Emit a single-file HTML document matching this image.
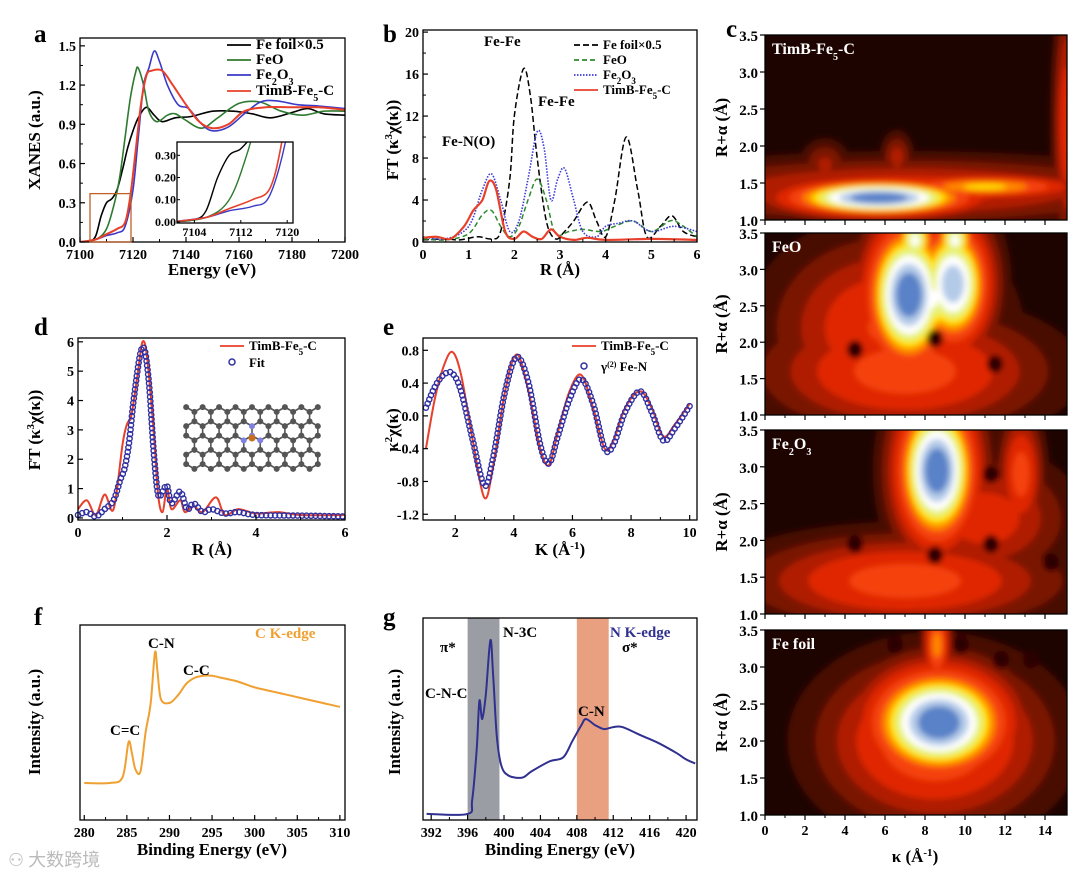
<!DOCTYPE html>
<html><head><meta charset="utf-8">
<style>
html,body{margin:0;padding:0;background:#fff;}
svg{display:block;font-family:"Liberation Serif","Noto Serif CJK SC",serif;font-weight:bold;}
</style></head>
<body>
<svg id="fig" width="1080" height="882" viewBox="0 0 1080 882" xmlns="http://www.w3.org/2000/svg">
<defs>
<filter id="blur" x="-20%" y="-20%" width="140%" height="140%"><feGaussianBlur stdDeviation="3"/></filter>
</defs>
<g id="root"></g>
<text x="8" y="866" font-size="18" fill="#bbb" font-family="'Noto Sans CJK SC',sans-serif" font-weight="normal">⚇ 大数跨境</text>
</svg>
<script>
// ---------- DATA ----------
const aFeFoil=[[7100,0],[7104,0.01],[7106,0.05],[7108,0.2],[7110,0.3],[7112,0.33],[7114,0.4],[7116,0.55],[7118,0.72],[7120,0.85],[7122,0.95],[7125,1.03],[7128,0.97],[7131,0.92],[7136,0.95],[7142,0.96],[7150,1.0],[7158,1.0],[7165,0.98],[7172,0.95],[7180,0.99],[7186,1.02],[7192,0.98],[7200,0.97]];
const aFeO=[[7100,0],[7106,0.02],[7110,0.1],[7113,0.3],[7115,0.5],[7117,0.8],[7119,1.1],[7121,1.3],[7122,1.33],[7124,1.2],[7126,1.0],[7129,0.92],[7133,0.97],[7136,0.98],[7140,0.93],[7146,0.87],[7152,0.95],[7160,1.06],[7168,1.07],[7176,1.0],[7184,0.97],[7192,1.0],[7200,1.0]];
const aFe2O3=[[7100,0],[7106,0.02],[7110,0.05],[7114,0.07],[7117,0.12],[7120,0.4],[7122,0.8],[7124,1.2],[7126,1.33],[7128,1.46],[7130,1.38],[7133,1.2],[7137,1.05],[7141,1.02],[7146,0.9],[7150,0.85],[7156,0.88],[7162,0.98],[7168,1.07],[7174,1.08],[7182,1.05],[7190,1.04],[7200,1.02]];
const aTimB=[[7100,0],[7106,0.02],[7110,0.06],[7114,0.1],[7117,0.15],[7119,0.35],[7121,0.7],[7123,1.05],[7125,1.27],[7127,1.31],[7131,1.31],[7135,1.2],[7140,1.05],[7145,0.92],[7150,0.87],[7156,0.9],[7162,1.0],[7170,1.03],[7180,1.03],[7190,1.03],[7200,1.01]];
const aTicksX=[7100,7120,7140,7160,7180,7200];
const aTicksY=[0,0.3,0.6,0.9,1.2,1.5];
const insetTicksX=[7104,7112,7120];
const insetTicksY=[0,0.1,0.2,0.3];

const bFeFoil=[[0,0.2],[0.5,0.3],[0.8,0.2],[1.2,0.5],[1.5,0.3],[1.7,1],[1.9,6],[2.0,12],[2.2,16.5],[2.35,14],[2.5,8],[2.7,2],[2.9,0.3],[3.1,1],[3.3,2],[3.6,3.8],[3.8,2],[4.0,0.5],[4.2,4],[4.45,10],[4.7,5],[4.9,0.5],[5.2,1.5],[5.45,2.5],[5.7,1],[6,0.5]];
const bFeO=[[0,0.3],[0.5,0.2],[1.0,0.8],[1.3,2.6],[1.5,3],[1.7,1.5],[1.9,0.5],[2.1,1.5],[2.3,4],[2.5,6],[2.7,4],[2.9,0.8],[3.2,1],[3.5,1.2],[3.9,1],[4.2,1.5],[4.6,2],[5.0,1],[5.4,2],[5.6,1.8],[6,0.5]];
const bFe2O3=[[0,0.5],[0.5,0.3],[1.0,1.5],[1.3,5],[1.5,6.5],[1.7,4],[1.9,1],[2.1,2],[2.3,6],[2.5,10.5],[2.65,9],[2.8,4],[2.95,6],[3.1,7],[3.3,4],[3.5,1],[3.8,0.5],[4.0,1.5],[4.3,1.8],[4.6,2],[5.0,1],[5.5,1.5],[6,1]];
const bTimB=[[0,0.4],[0.3,0.5],[0.6,0.3],[0.9,1.5],[1.1,3],[1.3,4],[1.45,5.8],[1.6,5],[1.8,1],[2.0,0.3],[2.2,1],[2.4,0.5],[2.6,0.3],[2.8,1.2],[3.0,0.5],[3.3,0.2],[3.6,0.4],[4,0.2],[5,0.3],[6,0.2]];
const bTicksX=[0,1,2,3,4,5,6];
const bTicksY=[0,4,8,12,16,20];

const dData=[[0,0.3],[0.2,0.6],[0.4,0.1],[0.6,0.8],[0.8,0.3],[1.0,2.5],[1.1,3.2],[1.2,3.5],[1.35,5],[1.45,6],[1.55,5.5],[1.7,3],[1.8,0.8],[1.9,0.2],[2.0,1.0],[2.1,0.3],[2.3,0.6],[2.4,0.2],[2.6,0.4],[2.8,0.2],[3.1,0.7],[3.3,0.1],[3.6,0.3],[4,0.15],[4.5,0.2],[5,0.1],[6,0.1]];
const dFit=[[0,0.1],[0.2,0.2],[0.4,0.05],[0.6,0.3],[0.8,0.6],[0.95,1.3],[1.05,1.7],[1.15,2.6],[1.25,4],[1.4,5.6],[1.5,5.7],[1.6,4.5],[1.7,2.3],[1.8,0.8],[1.9,0.9],[2.0,1.1],[2.1,0.5],[2.3,0.9],[2.45,0.3],[2.6,0.5],[2.8,0.2],[3.0,0.3],[3.3,0.15],[3.6,0.2],[4,0.1],[5,0.08],[6,0.05]];
const dTicksX=[0,2,4,6];
const dTicksY=[0,1,2,3,4,5,6];

const eData=[[1,-0.4],[1.3,0.2],[1.6,0.6],[1.9,0.78],[2.2,0.5],[2.6,-0.3],[3.0,-1.0],[3.3,-0.6],[3.7,0.3],[4.1,0.75],[4.5,0.3],[4.9,-0.4],[5.2,-0.6],[5.5,-0.2],[5.9,0.3],[6.3,0.5],[6.7,0.1],[7.1,-0.4],[7.4,-0.3],[7.8,0.1],[8.3,0.3],[8.7,0.1],[9.1,-0.25],[9.5,-0.1],[10,0.15]];
const eFit=[[1,0.1],[1.3,0.35],[1.6,0.5],[1.9,0.52],[2.2,0.3],[2.6,-0.3],[3.0,-0.85],[3.3,-0.5],[3.7,0.3],[4.1,0.72],[4.5,0.4],[4.9,-0.35],[5.2,-0.58],[5.5,-0.25],[5.9,0.2],[6.3,0.45],[6.7,0.15],[7.1,-0.4],[7.4,-0.35],[7.8,0.05],[8.3,0.3],[8.7,0.05],[9.1,-0.3],[9.5,-0.15],[10,0.12]];
const eTicksX=[2,4,6,8,10];
const eTicksY=[-1.2,-0.8,-0.4,0,0.4,0.8];

const fData=[[280,0.19],[283,0.19],[284.5,0.22],[285.2,0.4],[285.6,0.34],[286,0.26],[286.6,0.25],[287.2,0.45],[287.8,0.6],[288.3,0.86],[288.6,0.76],[289,0.62],[290,0.6],[291,0.64],[292,0.7],[293,0.73],[294,0.74],[295,0.74],[296,0.73],[298,0.71],[300,0.68],[302,0.66],[304,0.64],[306,0.62],[308,0.6],[310,0.58]];
const fTicksX=[280,285,290,295,300,305,310];

const gData=[[391.5,0.03],[396,0.03],[396.5,0.1],[397,0.35],[397.3,0.59],[397.6,0.5],[398,0.62],[398.5,0.89],[398.8,0.72],[399.2,0.42],[399.7,0.27],[400.5,0.22],[402,0.21],[403,0.24],[405,0.29],[406.5,0.31],[407.5,0.39],[408.5,0.47],[409,0.5],[410,0.47],[411,0.45],[412,0.46],[413,0.46],[415,0.42],[417,0.38],[419,0.33],[420,0.3],[421,0.28]];
const gTicksX=[392,396,400,404,408,412,416,420];
const gBands=[[396,399.5,'#9a9ea4'],[408,411.5,'#e8a080']];

// wavelet blobs: [k, R, sigmaK, sigmaR, peak]
const c1Blobs=[[7,1.4,9,0.32,0.4],[3.0,1.75,0.9,0.25,0.28],[6.6,1.85,0.6,0.25,0.3],[15.1,2.3,0.5,1.2,0.42],[11,1.45,3.5,0.12,0.66],[5.7,1.3,3.5,0.18,1.0]];
const c2Blobs=[[7,1.6,5,0.6,0.5],[6,2.2,4,0.9,0.45],[8.2,2.6,1.8,0.5,0.8],[7.5,3.4,0.8,0.3,0.8],[9.5,3.4,0.8,0.3,0.8],[9.4,2.8,1.4,0.65,0.92],[7.2,2.65,1.6,0.75,1.0]];
const c3Blobs=[[7,1.45,5.5,0.45,0.5],[11,2.3,3,0.6,0.4],[12.8,2.9,0.8,0.6,0.5],[8.6,2.95,1.5,0.75,1.0]];
const c4Blobs=[[8.5,2.0,4,0.8,0.55],[8.6,3.3,0.5,0.4,0.6],[8.7,2.25,2.6,0.55,1.0]];
const c2Dark=[[4.5,1.9],[8.5,2.05],[11.5,1.7]];
const c3Dark=[[4.5,1.95],[8.5,1.8],[11.3,1.95],[11.3,2.9],[14.3,1.7]];
const c4Dark=[[6.5,3.3],[9.8,3.3],[11.8,3.1],[13.3,3.1]];
const cTicksX=[0,2,4,6,8,10,12,14];
const cTicksY=[1.0,1.5,2.0,2.5,3.0,3.5];

// ---------- HELPERS ----------
const NS='http://www.w3.org/2000/svg';
const root=document.getElementById('root');
function mk(tag,attrs,parent){const e=document.createElementNS(NS,tag);for(const k in attrs)e.setAttribute(k,attrs[k]);(parent||root).appendChild(e);return e;}
function axes(box,xd,yd){return{x:v=>box[0]+(v-xd[0])/(xd[1]-xd[0])*(box[2]-box[0]),y:v=>box[3]-(v-yd[0])/(yd[1]-yd[0])*(box[3]-box[1]),box};}
function smooth(pts){let d='M'+pts[0][0].toFixed(1)+','+pts[0][1].toFixed(1);for(let i=0;i<pts.length-1;i++){const p0=pts[i-1]||pts[i],p1=pts[i],p2=pts[i+1],p3=pts[i+2]||p2;const c1=[p1[0]+(p2[0]-p0[0])/6,p1[1]+(p2[1]-p0[1])/6],c2=[p2[0]-(p3[0]-p1[0])/6,p2[1]-(p3[1]-p1[1])/6];d+='C'+c1.map(v=>v.toFixed(1))+' '+c2.map(v=>v.toFixed(1))+' '+p2.map(v=>v.toFixed(1));}return d;}
function curve(ax,data,style,name,parent){const p=mk('path',Object.assign({d:smooth(data.map(q=>[ax.x(q[0]),ax.y(q[1])])),fill:'none'},style),parent);return p;}
function frame(ax,name){const b=ax.box;const r=mk('rect',{x:b[0],y:b[1],width:b[2]-b[0],height:b[3]-b[1],fill:'none',stroke:'#000','stroke-width':1.3});}
function text(x,y,s,size,opts){const t=mk('text',Object.assign({x,y,'font-size':size},opts||{}));t.innerHTML=s;return t;}
function xticks(ax,ticks,fmt,size,minor){const b=ax.box;ticks.forEach(v=>{const x=ax.x(v);mk('line',{x1:x,x2:x,y1:b[3],y2:b[3]-5,stroke:'#000','stroke-width':1.2});const t=text(x,b[3]+17,fmt(v),size||14,{'text-anchor':'middle'});});if(minor)for(let i=0;i<ticks.length-1;i++){const x=ax.x((ticks[i]+ticks[i+1])/2);mk('line',{x1:x,x2:x,y1:b[3],y2:b[3]-3,stroke:'#000','stroke-width':1});}}
function yticks(ax,ticks,fmt,size,minor){const b=ax.box;ticks.forEach(v=>{const y=ax.y(v);mk('line',{x1:b[0],x2:b[0]+5,y1:y,y2:y,stroke:'#000','stroke-width':1.2});const t=text(b[0]-4,y+5,fmt(v),size||14,{'text-anchor':'end'});});if(minor)for(let i=0;i<ticks.length-1;i++){const y=ax.y((ticks[i]+ticks[i+1])/2);mk('line',{x1:b[0],x2:b[0]+3,y1:y,y2:y,stroke:'#000','stroke-width':1});}}
function ylabel(x,y,s,name){const t=text(x,y,s,17,{'text-anchor':'middle',transform:`rotate(-90 ${x} ${y})`});}
function xlabel(x,y,s,name){const t=text(x,y,s,17,{'text-anchor':'middle'});}
function letter(x,y,s){const t=text(x,y,s,25,{});}
function legendLine(x,y,color,dash,label,name,size){mk('line',{x1:x,x2:x+24,y1:y-4,y2:y-4,stroke:color,'stroke-width':1.8,'stroke-dasharray':dash||''});const t=text(x+29,y,label,size||13,{});}
const f1=v=>v.toFixed(1), f0=v=>String(v);
const RED='#e8402a',BLUE='#3a3ac8',GREEN='#2e7a2e',BLUE2='#3030a0';

// ---------- PANEL A ----------
letter(34,42,'a');
const A=axes([80,38,345,242],[7100,7200],[0,1.56]);
const clipA=mk('clipPath',{id:'clipA'});mk('rect',{x:80,y:38,width:265,height:204},clipA);
const gA=mk('g',{'clip-path':'url(#clipA)'});
curve(A,aFeFoil,{stroke:'#000','stroke-width':1.6},'fe-foil-line',gA);
curve(A,aFeO,{stroke:GREEN,'stroke-width':1.6},'feo-line',gA);
curve(A,aFe2O3,{stroke:BLUE,'stroke-width':1.6},'fe2o3-line',gA);
curve(A,aTimB,{stroke:RED,'stroke-width':2},'timb-line',gA);
frame(A,'panel-a-frame');
xticks(A,aTicksX,f0,14,true);yticks(A,aTicksY,f1,14,true);
xlabel(212,275,'Energy (eV)','panel-a-x-title');ylabel(40,140,'XANES (a.u.)','panel-a-y-title');
mk('rect',{x:90,y:A.y(0.37),width:41,height:A.y(0)-A.y(0.37),fill:'none',stroke:'#c0602a','stroke-width':1.3});
const AI=axes([177,142,293,223],[7101,7121],[-0.005,0.36]);
const clipAI=mk('clipPath',{id:'clipAI'});mk('rect',{x:177,y:142,width:116,height:81},clipAI);
mk('rect',{x:177,y:142,width:116,height:81,fill:'#fff'});
const gAI=mk('g',{'clip-path':'url(#clipAI)'});
curve(AI,aFeFoil,{stroke:'#000','stroke-width':1.4},'inset-fe-foil',gAI);
curve(AI,aFeO,{stroke:GREEN,'stroke-width':1.4},'inset-feo',gAI);
curve(AI,aFe2O3,{stroke:BLUE,'stroke-width':1.4},'inset-fe2o3',gAI);
curve(AI,aTimB,{stroke:RED,'stroke-width':1.6},'inset-timb',gAI);
frame(AI,'inset-frame');
insetTicksX.forEach(v=>{const x=AI.x(v);mk('line',{x1:x,x2:x,y1:223,y2:220,stroke:'#000'});const t=text(x,236,String(v),12,{'text-anchor':'middle'});});
insetTicksY.forEach(v=>{const y=AI.y(v);mk('line',{x1:177,x2:180,y1:y,y2:y,stroke:'#000'});const t=text(176,y+4,v.toFixed(2),12,{'text-anchor':'end'});});
legendLine(227,49,'#000','','Fe foil×0.5','legend-fe-foil',15);
legendLine(227,64,GREEN,'','FeO','legend-feo',15);
legendLine(227,79,BLUE,'','Fe<tspan baseline-shift="sub" font-size="10">2</tspan>O<tspan baseline-shift="sub" font-size="10">3</tspan>','legend-fe2o3',15);
legendLine(227,95,RED,'','TimB-Fe<tspan baseline-shift="sub" font-size="10">5</tspan>-C','legend-timb',15);

// ---------- PANEL B ----------
letter(383,42,'b');
const B=axes([423,30,697,242],[0,6],[0,20.2]);
const clipB=mk('clipPath',{id:'clipB'});mk('rect',{x:423,y:30,width:274,height:212},clipB);
const gB=mk('g',{'clip-path':'url(#clipB)'});
curve(B,bFeFoil,{stroke:'#000','stroke-width':1.5,'stroke-dasharray':'6,3'},'b-fe-foil-line',gB);
curve(B,bFeO,{stroke:'#2e8a2e','stroke-width':1.5,'stroke-dasharray':'5,3'},'b-feo-line',gB);
curve(B,bFe2O3,{stroke:'#3a3ad8','stroke-width':1.6,'stroke-dasharray':'1.5,1.5'},'b-fe2o3-line',gB);
curve(B,bTimB,{stroke:RED,'stroke-width':2.2},'b-timb-line',gB);
frame(B,'panel-b-frame');
xticks(B,bTicksX,f0,14,true);yticks(B,bTicksY,f0,14,true);
xlabel(560,275,'R (Å)','panel-b-x-title');ylabel(398,140,'FT (κ<tspan baseline-shift="super" font-size="11">3</tspan>χ(κ))','panel-b-y-title');
[['Fe-Fe',484,46],['Fe-Fe',538,106],['Fe-N(O)',442,146]].forEach(a=>{const t=text(a[1],a[2],a[0],15,{});});
legendLine(574,49,'#000','6,3','Fe foil×0.5','b-legend-fe-foil');
legendLine(574,64,'#2e8a2e','5,3','FeO','b-legend-feo');
legendLine(574,79,'#3a3ad8','1.5,1.5','Fe<tspan baseline-shift="sub" font-size="9">2</tspan>O<tspan baseline-shift="sub" font-size="9">3</tspan>','b-legend-fe2o3');
legendLine(574,94,RED,'','TimB-Fe<tspan baseline-shift="sub" font-size="9">5</tspan>-C','b-legend-timb');

// ---------- PANEL D ----------
letter(34,335,'d');
const D=axes([78,338,345,520],[0,6],[-0.07,6.13]);
curve(D,dData,{stroke:RED,'stroke-width':2},'d-timb-line');
const dPath=curve(D,dFit,{stroke:'none'},'d-fit-path');
{const L=dPath.getTotalLength();for(let s=0;s<=L;s+=4.5){const p=dPath.getPointAtLength(s);const c=mk('circle',{cx:p.x,cy:p.y,r:2.6,fill:'none',stroke:BLUE2,'stroke-width':1.4});}}
frame(D,'panel-d-frame');
xticks(D,dTicksX,f0,14,true);yticks(D,dTicksY,f0,14,false);
xlabel(212,555,'R (Å)','panel-d-x-title');ylabel(40,430,'FT (κ<tspan baseline-shift="super" font-size="11">3</tspan>χ(κ))','panel-d-y-title');
legendLine(220,350,RED,'','TimB-Fe<tspan baseline-shift="sub" font-size="9">5</tspan>-C','d-legend-timb');
mk('circle',{cx:232,cy:362,r:3,fill:'none',stroke:BLUE2,'stroke-width':1.5});
{const t=text(249,367,'Fit',13,{});}
{const g=mk('g',{});const s=9.5,cx=252,cy=438;const atoms=[];
for(let r=-2;r<=2;r++)for(let c=-8;c<=8;c++){const x=cx+c*s*0.866,y=cy+r*s*1.5+((c+r)%2===0?-s*0.25:s*0.25);if(Math.abs(x-cx)<72)atoms.push([x,y]);}
atoms.forEach((a,i)=>atoms.forEach((b,j)=>{if(j>i&&Math.hypot(a[0]-b[0],a[1]-b[1])<s*1.05)mk('line',{x1:a[0],y1:a[1],x2:b[0],y2:b[1],stroke:'#555','stroke-width':1.6},g);}));
atoms.forEach(a=>{const d=Math.hypot(a[0]-cx,a[1]-cy);mk('circle',{cx:a[0],cy:a[1],r:3,fill:d<s*1.3&&d>2?'#8080e0':'#555'},g);});
mk('circle',{cx:cx,cy:cy,r:3.5,fill:'#c87020'},g);}

// ---------- PANEL E ----------
letter(383,335,'e');
const E=axes([423,338,697,520],[0.9,10.25],[-1.27,0.95]);
curve(E,eData,{stroke:RED,'stroke-width':2},'e-timb-line');
const ePath=curve(E,eFit,{stroke:'none'},'e-fit-path');
{const L=ePath.getTotalLength();for(let s=0;s<=L;s+=4.5){const p=ePath.getPointAtLength(s);const c=mk('circle',{cx:p.x,cy:p.y,r:2.6,fill:'none',stroke:BLUE2,'stroke-width':1.4});}}
frame(E,'panel-e-frame');
xticks(E,eTicksX,f0,14,true);yticks(E,eTicksY,f1,14,false);
xlabel(560,555,'K (Å<tspan baseline-shift="super" font-size="11">-1</tspan>)','panel-e-x-title');ylabel(398,430,'κ<tspan baseline-shift="super" font-size="11">2</tspan>χ(κ)','panel-e-y-title');
legendLine(572,350,RED,'','TimB-Fe<tspan baseline-shift="sub" font-size="9">5</tspan>-C','e-legend-timb');
mk('circle',{cx:584,cy:366,r:3,fill:'none',stroke:BLUE2,'stroke-width':1.5});
{const t=text(601,371,'γ<tspan baseline-shift="super" font-size="8">(2)</tspan> Fe-N',13,{});}

// ---------- PANEL F ----------
letter(34,625,'f');
const F=axes([80,625,345,820],[279.5,310.6],[0,1]);
curve(F,fData,{stroke:'#f0a030','stroke-width':2},'c-kedge-line');
frame(F,'panel-f-frame');
xticks(F,fTicksX,f0,14,true);
xlabel(212,855,'Binding Energy (eV)','panel-f-x-title');ylabel(40,722,'Intensity (a.u.)','panel-f-y-title');
[['C K-edge',255,638,'#f0a030'],['C-N',148,648,'#000'],['C-C',183,675,'#000'],['C=C',110,735,'#000']].forEach(a=>{const t=text(a[1],a[2],a[0],15,{fill:a[3]});});

// ---------- PANEL G ----------
letter(383,625,'g');
const G=axes([423,618,697,820],[391.1,421.2],[0,1]);
gBands.forEach(b=>{const r=mk('rect',{x:G.x(b[0]),y:618,width:G.x(b[1])-G.x(b[0]),height:202,fill:b[2]});});
curve(G,gData,{stroke:'#303090','stroke-width':2},'n-kedge-line');
frame(G,'panel-g-frame');
xticks(G,gTicksX,f0,14,true);
xlabel(560,855,'Binding Energy (eV)','panel-g-x-title');ylabel(400,722,'Intensity (a.u.)','panel-g-y-title');
[['N K-edge',610,637,'#303090'],['π*',440,652,'#000'],['σ*',622,652,'#000'],['N-3C',503,637,'#000'],['C-N-C',425,698,'#000'],['C-N',578,716,'#000']].forEach(a=>{const t=text(a[1],a[2],a[0],15,{fill:a[3]});});

// ---------- PANEL C ----------
letter(726,37,'c');
const levels=[[0.1,'#4a0a00'],[0.18,'#7a1200'],[0.26,'#b01a00'],[0.34,'#e02800'],[0.44,'#f5420c'],[0.55,'#ff8a00'],[0.63,'#ffe200'],[0.7,'#e6f27a'],[0.77,'#ffffff'],[0.85,'#b4cbe8'],[0.92,'#5a82c8']];
const cPanels=[[35,220,c1Blobs,[],'TimB-Fe<tspan baseline-shift="sub" font-size="10">5</tspan>-C'],[233,415,c2Blobs,c2Dark,'FeO'],[430,614,c3Blobs,c3Dark,'Fe<tspan baseline-shift="sub" font-size="10">2</tspan>O<tspan baseline-shift="sub" font-size="10">3</tspan>'],[630,815,c4Blobs,c4Dark,'Fe foil']];
cPanels.forEach((P,pi)=>{
 const C=axes([765,P[0],1067,P[1]],[0,15.1],[1.0,3.5]);
 const cid='clipC'+pi;const cp=mk('clipPath',{id:cid});mk('rect',{x:765,y:P[0],width:302,height:P[1]-P[0]},cp);
 const g=mk('g',{'clip-path':'url(#'+cid+')'});
 mk('rect',{x:765,y:P[0],width:302,height:P[1]-P[0],fill:'#1e0400'},g);
 const gb=mk('g',{filter:'url(#blur)'},g);
 levels.forEach(L=>{P[2].forEach(b=>{if(b[4]>L[0]){const f=Math.sqrt(2*Math.log(b[4]/L[0]));const e=mk('ellipse',{cx:C.x(b[0]),cy:C.y(b[1]),rx:Math.abs(C.x(b[2]*f)-C.x(0)),ry:Math.abs(C.y(b[3]*f)-C.y(0)),fill:L[1]},gb);}});});
 P[3].forEach(d=>{mk('ellipse',{cx:C.x(d[0]),cy:C.y(d[1]),rx:8,ry:9,fill:'#2a0600'},gb);});
 frame(C,'heatmap-frame-'+pi);
 cTicksX.forEach(v=>{const x=C.x(v);mk('line',{x1:x,x2:x,y1:P[1],y2:P[1]+5,stroke:'#000','stroke-width':1.2});});
 for(let v=1;v<15;v+=2){const x=C.x(v);mk('line',{x1:x,x2:x,y1:P[1],y2:P[1]+3,stroke:'#000'});}
 cTicksY.forEach(v=>{const y=C.y(v);mk('line',{x1:760,x2:765,y1:y,y2:y,stroke:'#000','stroke-width':1.2});const t=text(758,y+6,v.toFixed(1),15,{'text-anchor':'end'});});
 ylabel(727,(P[0]+P[1])/2,'R+α (Å)','heatmap-y-title');
 const t=text(772,P[0]+19,P[4],16,{fill:'#fff'});
 if(pi===3){cTicksX.forEach(v=>{const tt=text(C.x(v),P[1]+20,String(v),14,{'text-anchor':'middle'});});}
});
xlabel(915,862,'κ (Å<tspan baseline-shift="super" font-size="11">-1</tspan>)','panel-c-x-title');
</script>
</body></html>
